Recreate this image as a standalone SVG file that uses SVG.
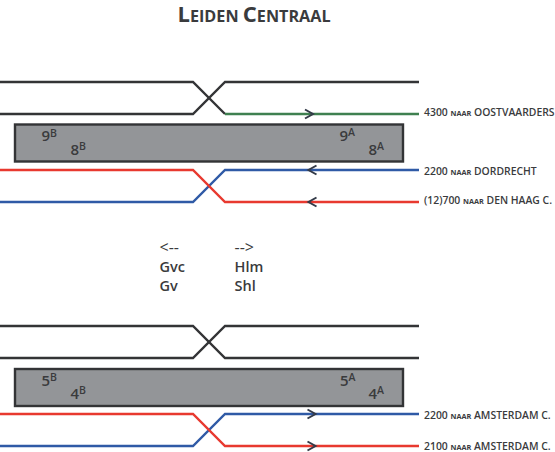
<svg xmlns="http://www.w3.org/2000/svg" width="555" height="452" viewBox="0 0 555 452">
<style>
text{font-family:"Open Sans","Noto Sans","Liberation Sans",sans-serif;fill:#3a3b3d;font-weight:600}
.t{fill:none;stroke-width:2.4;stroke-linejoin:miter}
.k{stroke:#333436}.g{stroke:#3f8050}.r{stroke:#e8392f}.b{stroke:#2f5aa6}
.p{fill:#939598;stroke:#333436;stroke-width:2.4}
.a{fill:none;stroke:#333a48;stroke-width:2}
.n{font-size:15px}.s{font-size:10.500px}
.l{font-size:10.400px}.c{font-size:7.300px;font-weight:700}
.m{font-size:14.500px}.d{font-size:16px;font-weight:400}
.h{font-size:22px;font-weight:700}.h2{font-size:16.200px;font-weight:700}
</style>
<g id="title"><text x="177.500" y="22" class="h">L<tspan class="h2">EIDEN </tspan>C<tspan class="h2">ENTRAAL</tspan></text></g>
<g id="connectors">
<path class="t k" d="M0 82H193L225 114"/>
<path class="t k" d="M0 114H193L225 82H419"/>
<path class="t g" d="M225 114H419"/>
<path class="t b" d="M0 202H193L225 170H419"/>
<path class="t r" d="M0 170H193L225 202H419"/>
<path class="t k" d="M0 326H193L225 358H419"/>
<path class="t k" d="M0 358H193L225 326H419"/>
<path class="t b" d="M0 446H193L225 414H419"/>
<path class="t r" d="M0 414H193L225 446H419"/>
<path class="a" d="M305 109.500L313 114L305 118.500"/>
<path class="a" d="M316.500 165.500L308.500 170L316.500 174.500"/>
<path class="a" d="M316.500 197.500L308.500 202L316.500 206.500"/>
<path class="a" d="M307.500 409.500L315.500 414L307.500 418.500"/>
<path class="a" d="M307.500 441.500L315.500 446L307.500 450.500"/>
</g>
<g id="platform-top">
<rect class="p" x="15" y="124.500" width="388" height="37"/>
<text x="41.500" y="141" class="n">9<tspan class="s" dy="-4.500">B</tspan></text>
<text x="70.500" y="154.500" class="n">8<tspan class="s" dy="-4.500">B</tspan></text>
<text x="339.500" y="140.500" class="n">9<tspan class="s" dy="-4.500">A</tspan></text>
<text x="368.500" y="154.500" class="n">8<tspan class="s" dy="-4.500">A</tspan></text>
</g>
<g id="platform-bottom">
<rect class="p" x="15" y="369" width="388" height="37"/>
<text x="41.500" y="385.500" class="n">5<tspan class="s" dy="-4.500">B</tspan></text>
<text x="70.500" y="398.500" class="n">4<tspan class="s" dy="-4.500">B</tspan></text>
<text x="340" y="385.500" class="n">5<tspan class="s" dy="-4.500">A</tspan></text>
<text x="368.500" y="398.500" class="n">4<tspan class="s" dy="-4.500">A</tspan></text>
</g>
<g id="labels">
<text x="424" y="116" class="l">4300 <tspan class="c">NAAR</tspan> OOSTVAARDERS</text>
<text x="424" y="174.500" class="l">2200 <tspan class="c">NAAR</tspan> DORDRECHT</text>
<text x="424" y="204" class="l">(12)700 <tspan class="c">NAAR</tspan> DEN HAAG C.</text>
<text x="424" y="418.500" class="l">2200 <tspan class="c">NAAR</tspan> AMSTERDAM C.</text>
<text x="424" y="449.500" class="l">2100 <tspan class="c">NAAR</tspan> AMSTERDAM C.</text>
</g>
<g id="directions">
<text x="159.500" y="253" class="d">&lt;--</text>
<text x="159.500" y="271.500" class="m">Gvc</text>
<text x="159.500" y="291" class="m">Gv</text>
<text x="234.500" y="253" class="d">--&gt;</text>
<text x="234.500" y="271.500" class="m">Hlm</text>
<text x="234.500" y="291" class="m">Shl</text>
</g>
</svg>
